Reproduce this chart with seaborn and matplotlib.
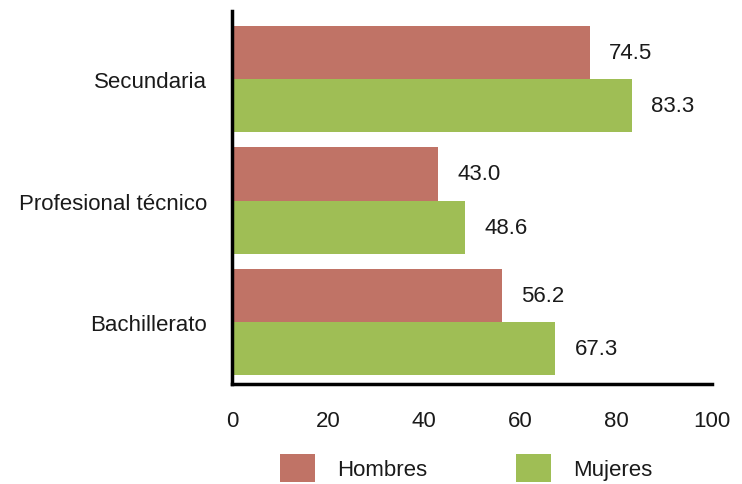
import matplotlib
matplotlib.use("Agg")
import matplotlib.pyplot as plt
import seaborn as sns
import pandas as pd
from matplotlib.patches import Patch

categories = ["Secundaria", "Profesional técnico", "Bachillerato"]
hombres = [74.5, 43.0, 56.2]
mujeres = [83.3, 48.6, 67.3]
series = ["Hombres", "Mujeres"]
colors = ["#c07366", "#9fbe55"]
xticks = [0, 20, 40, 60, 80, 100]

df = pd.DataFrame({
    "cat": categories * 2,
    "val": hombres + mujeres,
    "serie": [series[0]] * 3 + [series[1]] * 3,
})

sns.set_style("white")
plt.rcParams["font.family"] = ["Liberation Sans", "DejaVu Sans"]

FS = 16
fig = plt.figure(figsize=(7.42, 4.85), dpi=100)
ax = fig.add_axes([0.3127, 0.2062, 0.9596 - 0.3127, 0.9753 - 0.2062])

sns.barplot(data=df, x="val", y="cat", hue="serie", orient="h",
            palette=colors, width=0.875, gap=0, ax=ax, legend=False,
            saturation=1, linewidth=0, errorbar=None)

for cont in ax.containers:
    ax.bar_label(cont, labels=[f"{v:.1f}" for v in cont.datavalues],
                 padding=14, fontsize=FS, color="#1a1a1a")

ax.set_xlim(0, 100)
ax.set_ylim(2.51, -0.56)
ax.set_xticks(xticks)
ax.set_xticklabels([str(t) for t in xticks], fontsize=FS)
ax.set_xlabel("")
ax.set_ylabel("")
ax.tick_params(axis="y", length=0, pad=18, labelsize=FS, labelcolor="#1a1a1a")
ax.tick_params(axis="x", length=4, width=1.5, direction="out", pad=15,
               color="black", labelcolor="#1a1a1a")
for s in ["top", "right"]:
    ax.spines[s].set_visible(False)
for s in ["left", "bottom"]:
    ax.spines[s].set_color("black")
    ax.spines[s].set_linewidth(2.5)

handles = [Patch(facecolor=c, edgecolor="none") for c in colors]
fig.legend(handles, series, loc="center", bbox_to_anchor=(0.6287, 0.033), ncol=2,
           frameon=False, fontsize=FS, handlelength=1.56, handleheight=1.56,
           columnspacing=4.0, handletextpad=1.0, labelcolor="#1a1a1a")

fig.savefig("out.png", dpi=100)
